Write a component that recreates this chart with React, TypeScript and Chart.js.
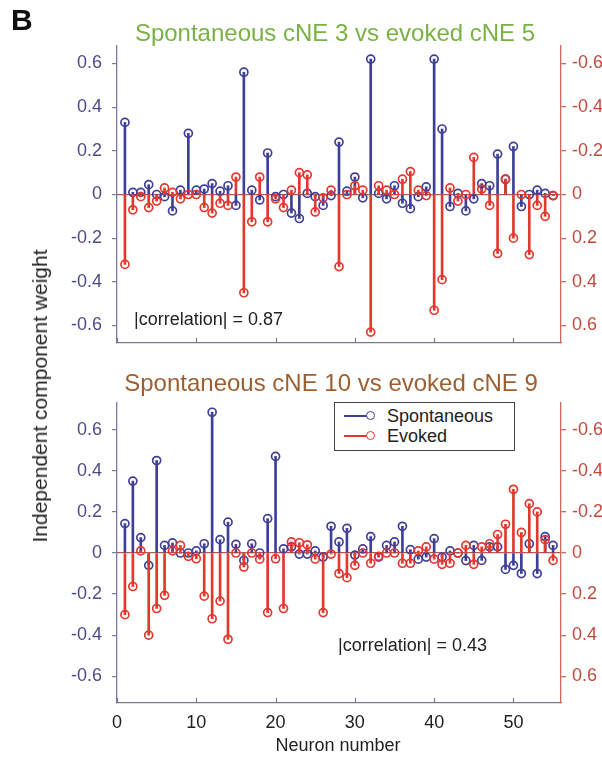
import React, { useEffect, useRef } from "react";
import { Chart, registerables } from "chart.js";

Chart.register(...registerables);

const FONT = "'Liberation Sans', Arial, Helvetica, sans-serif";
Chart.defaults.font.family = FONT;

// ---------- data ----------
const neurons = Array.from({ length: 55 }, (_, i) => i + 1);

// Panel 1: spontaneous cNE 3 (blue, left axis) vs evoked cNE 5 (red, reversed right axis)
const spontCNE3 = [
  0.33, 0.01, 0.01, 0.045, 0.0, -0.01, -0.075, 0.02, 0.28, 0.02,
  0.025, 0.05, 0.015, 0.04, -0.05, 0.56, 0.02, -0.025, 0.19, -0.01,
  0.0, -0.085, -0.11, 0.005, -0.01, -0.05, -0.005, 0.24, 0.015, 0.08,
  -0.015, 0.62, 0.005, -0.02, 0.04, -0.04, -0.065, -0.01, 0.035, 0.62,
  0.3, -0.055, 0.005, -0.075, -0.02, 0.05, 0.04, 0.185, 0.07, 0.22,
  -0.055, 0.0, 0.02, 0.005, -0.005,
];
const evokedCNE5 = [
  0.32, 0.07, 0.01, 0.06, 0.03, -0.03, -0.01, 0.02, 0.0, 0.0,
  0.06, 0.085, 0.04, 0.05, -0.08, 0.45, 0.125, -0.08, 0.125, 0.02,
  0.06, -0.02, -0.1, -0.09, 0.08, 0.015, -0.02, 0.33, 0.0, -0.04,
  -0.02, 0.63, -0.04, -0.02, 0.0, -0.07, -0.105, -0.02, 0.005, 0.53,
  0.39, -0.03, 0.03, 0.0, -0.17, -0.025, 0.05, 0.27, -0.07, 0.2,
  0.0, 0.275, 0.05, 0.1, 0.005,
];

// Panel 2: spontaneous cNE 10 vs evoked cNE 9
const spontCNE10 = [
  0.143, 0.35, 0.075, -0.06, 0.45, 0.037, 0.049, 0.0, 0.0, 0.01,
  0.045, 0.685, 0.065, 0.15, 0.042, -0.036, 0.045, 0.0, 0.167, 0.47,
  0.02, 0.03, -0.005, -0.005, 0.01, -0.02, 0.13, 0.054, 0.12, -0.01,
  0.02, 0.08, -0.02, 0.037, 0.054, 0.13, 0.016, -0.03, -0.02, 0.07,
  -0.02, 0.01, 0.0, -0.037, 0.037, -0.036, 0.03, 0.03, -0.08, -0.06,
  -0.1, 0.045, -0.1, 0.08, 0.037,
];
const evokedCNE9 = [
  0.3, 0.163, -0.01, 0.4, 0.27, 0.206, -0.01, -0.037, 0.016, 0.028,
  0.21, 0.32, 0.234, 0.42, 0.0, 0.068, 0.0, 0.03, 0.29, 0.028,
  0.27, -0.054, -0.05, -0.04, 0.03, 0.29, 0.005, 0.1, 0.12, 0.06,
  0.0, 0.05, 0.016, 0.0, 0.0, 0.05, 0.05, -0.01, -0.03, 0.03,
  0.055, 0.05, 0.0, -0.037, 0.055, -0.03, -0.045, -0.09, -0.14, -0.31,
  -0.1, -0.24, -0.2, -0.065, 0.036,
];

const xTickValues = [0, 10, 20, 30, 40, 50];
const xTickLabels = ["0", "10", "20", "30", "40", "50"];
const yTickValues = [-0.6, -0.4, -0.2, 0, 0.2, 0.4, 0.6];
const yTickLabels = ["-0.6", "-0.4", "-0.2", "0", "0.2", "0.4", "0.6"];

const titleTop = "Spontaneous cNE 3 vs evoked cNE 5";
const titleBottom = "Spontaneous cNE 10 vs evoked cNE 9";
const corrTop = "|correlation| = 0.87";
const corrBottom = "|correlation| = 0.43";
const seriesNames = ["Spontaneous", "Evoked"];

// ---------- style ----------
const BLUE = "#3f3f98";
const RED = "#e4372d";
const LEFT_AXIS = "#7a7aa6";
const LEFT_TEXT = "#4b4b8c";
const RIGHT_AXIS = "#d0675c";
const RIGHT_TEXT = "#c24a3e";
const ZERO_LINE = "#bb5a4b";
const X_AXIS = "#7b7b85";

const inwardXTicks = {
  id: "inwardXTicks",
  afterDraw(chart: any) {
    const xs = chart.scales.x;
    const { ctx, chartArea } = chart;
    ctx.save();
    ctx.strokeStyle = X_AXIS;
    ctx.lineWidth = 1.2;
    xs.ticks.forEach((t: any) => {
      const px = Math.round(xs.getPixelForValue(t.value)) + 0.5;
      ctx.beginPath();
      ctx.moveTo(px, chartArea.bottom);
      ctx.lineTo(px, chartArea.bottom - 5);
      ctx.stroke();
    });
    ctx.restore();
  },
};

function makeConfig(
  spont: number[],
  evoked: number[],
  lim: number,
  padTop: number,
  xHeight: number,
  showXLabels: boolean
): any {
  const sData = neurons.map((n, i) => ({ x: n, y: spont[i] }));
  const eData = neurons.map((n, i) => ({ x: n, y: evoked[i] }));
  return {
    type: "bar",
    data: {
      datasets: [
        {
          type: "bar",
          data: sData,
          yAxisID: "y",
          backgroundColor: BLUE,
          borderWidth: 0,
          barThickness: 2,
          grouped: false,
          order: 4,
        },
        {
          type: "line",
          data: sData,
          yAxisID: "y",
          showLine: false,
          pointRadius: 4,
          pointBorderWidth: 1.7,
          pointBorderColor: BLUE,
          pointBackgroundColor: "rgba(0,0,0,0)",
          order: 3,
        },
        {
          type: "bar",
          data: eData,
          yAxisID: "y2",
          backgroundColor: RED,
          borderWidth: 0,
          barThickness: 2,
          grouped: false,
          order: 2,
        },
        {
          type: "line",
          data: eData,
          yAxisID: "y2",
          showLine: false,
          pointRadius: 4,
          pointBorderWidth: 1.7,
          pointBorderColor: RED,
          pointBackgroundColor: "rgba(0,0,0,0)",
          order: 1,
        },
      ],
    },
    options: {
      responsive: false,
      animation: false,
      events: [],
      layout: { padding: { top: padTop, left: 0, right: 0, bottom: 0 } },
      plugins: { legend: { display: false }, tooltip: { enabled: false } },
      scales: {
        x: {
          type: "linear",
          min: 0,
          max: 56,
          offset: false,
          afterBuildTicks: (s: any) => {
            s.ticks = xTickValues.map((v) => ({ value: v }));
          },
          afterFit: (s: any) => {
            s.height = xHeight;
          },
          grid: { display: true, drawOnChartArea: false, drawTicks: false, offset: false },
          border: { display: true, color: X_AXIS, width: 1.2 },
          ticks: {
            display: showXLabels,
            padding: 9,
            color: "#222",
            font: { size: 18 },
            maxRotation: 0,
            callback: (_v: any, i: number) => xTickLabels[i],
          },
        },
        y: {
          type: "linear",
          position: "left",
          min: -lim,
          max: lim,
          afterBuildTicks: (s: any) => {
            s.ticks = yTickValues.map((v) => ({ value: v }));
          },
          afterFit: (s: any) => {
            s.width = 117;
          },
          grid: { drawOnChartArea: false, color: LEFT_AXIS, tickColor: LEFT_AXIS, tickLength: 5, lineWidth: 1.2 },
          border: { display: true, color: LEFT_AXIS, width: 1.3 },
          ticks: {
            padding: 10,
            color: LEFT_TEXT,
            font: { size: 18 },
            callback: (_v: any, i: number) => yTickLabels[i],
          },
        },
        y2: {
          type: "linear",
          position: "right",
          reverse: true,
          min: -lim,
          max: lim,
          afterBuildTicks: (s: any) => {
            s.ticks = yTickValues.map((v) => ({ value: v }));
          },
          afterFit: (s: any) => {
            s.width = 41;
          },
          grid: {
            drawOnChartArea: true,
            color: (c: any) => (c.tick && c.tick.value === 0 ? ZERO_LINE : "rgba(0,0,0,0)"),
            tickColor: RIGHT_AXIS,
            tickLength: 5,
            lineWidth: 1.3,
          },
          border: { display: true, color: RIGHT_AXIS, width: 1.3 },
          ticks: {
            padding: 6,
            color: RIGHT_TEXT,
            font: { size: 18 },
            callback: (_v: any, i: number) => yTickLabels[i],
          },
        },
      },
    },
    plugins: [inwardXTicks],
  };
}

const abs = (extra: any): any => ({ position: "absolute", whiteSpace: "nowrap", ...extra });

function LegendRow({ color, label, cy }: { color: string; label: string; cy: number }) {
  return (
    <>
      <div style={abs({ left: 9, top: cy - 1, width: 27, height: 0, borderTop: `2px solid ${color}` })} />
      <div
        style={abs({
          left: 31,
          top: cy - 5,
          width: 7,
          height: 7,
          border: `1.7px solid ${color}`,
          borderRadius: "50%",
          background: "#fff",
        })}
      />
      <div style={abs({ left: 52, top: cy - 11, fontSize: 18, lineHeight: "22px", color: "#222" })}>{label}</div>
    </>
  );
}

export default function App() {
  const topRef = useRef<HTMLCanvasElement>(null);
  const botRef = useRef<HTMLCanvasElement>(null);

  useEffect(() => {
    const c1 = new Chart(topRef.current as HTMLCanvasElement, makeConfig(spontCNE3, evokedCNE5, 0.68, 46, 22, false));
    const c2 = new Chart(botRef.current as HTMLCanvasElement, makeConfig(spontCNE10, evokedCNE9, 0.73, 38, 59, true));
    return () => {
      c1.destroy();
      c2.destroy();
    };
  }, []);

  return (
    <div style={{ position: "absolute", left: 0, top: 0, width: 602, height: 762, background: "#fff", fontFamily: FONT, overflow: "hidden" }}>
      <canvas ref={topRef} width={602} height={365} style={{ position: "absolute", left: 0, top: 0, width: 602, height: 365 }} />
      <canvas ref={botRef} width={602} height={397} style={{ position: "absolute", left: 0, top: 365, width: 602, height: 397 }} />

      <div style={abs({ left: 11, top: 4, fontSize: 30, fontWeight: "bold", lineHeight: "32px", color: "#111" })}>B</div>

      <div style={abs({ left: 335, top: 19, transform: "translateX(-50%)", fontSize: 24, lineHeight: "28px", color: "#79b244" })}>{titleTop}</div>
      <div style={abs({ left: 331, top: 369, transform: "translateX(-50%)", fontSize: 24, lineHeight: "28px", color: "#9e5f30" })}>{titleBottom}</div>

      <div
        style={abs({
          left: 40,
          top: 396,
          transform: "translate(-50%, -50%) rotate(-90deg)",
          fontSize: 21,
          lineHeight: "24px",
          color: "#222",
        })}
      >
        Independent component weight
      </div>

      <div style={abs({ left: 134, top: 308, fontSize: 18, lineHeight: "22px", color: "#222" })}>{corrTop}</div>
      <div style={abs({ left: 338, top: 634, fontSize: 18, lineHeight: "22px", color: "#222" })}>{corrBottom}</div>

      <div style={abs({ left: 338, top: 734, transform: "translateX(-50%)", fontSize: 18, lineHeight: "22px", color: "#222" })}>Neuron number</div>

      <div style={abs({ left: 334, top: 402, width: 181, height: 49, border: "1.3px solid #444", background: "#fff", boxSizing: "border-box" })}>
        <LegendRow color={BLUE} label={seriesNames[0]} cy={13} />
        <LegendRow color={RED} label={seriesNames[1]} cy={33} />
      </div>
    </div>
  );
}
